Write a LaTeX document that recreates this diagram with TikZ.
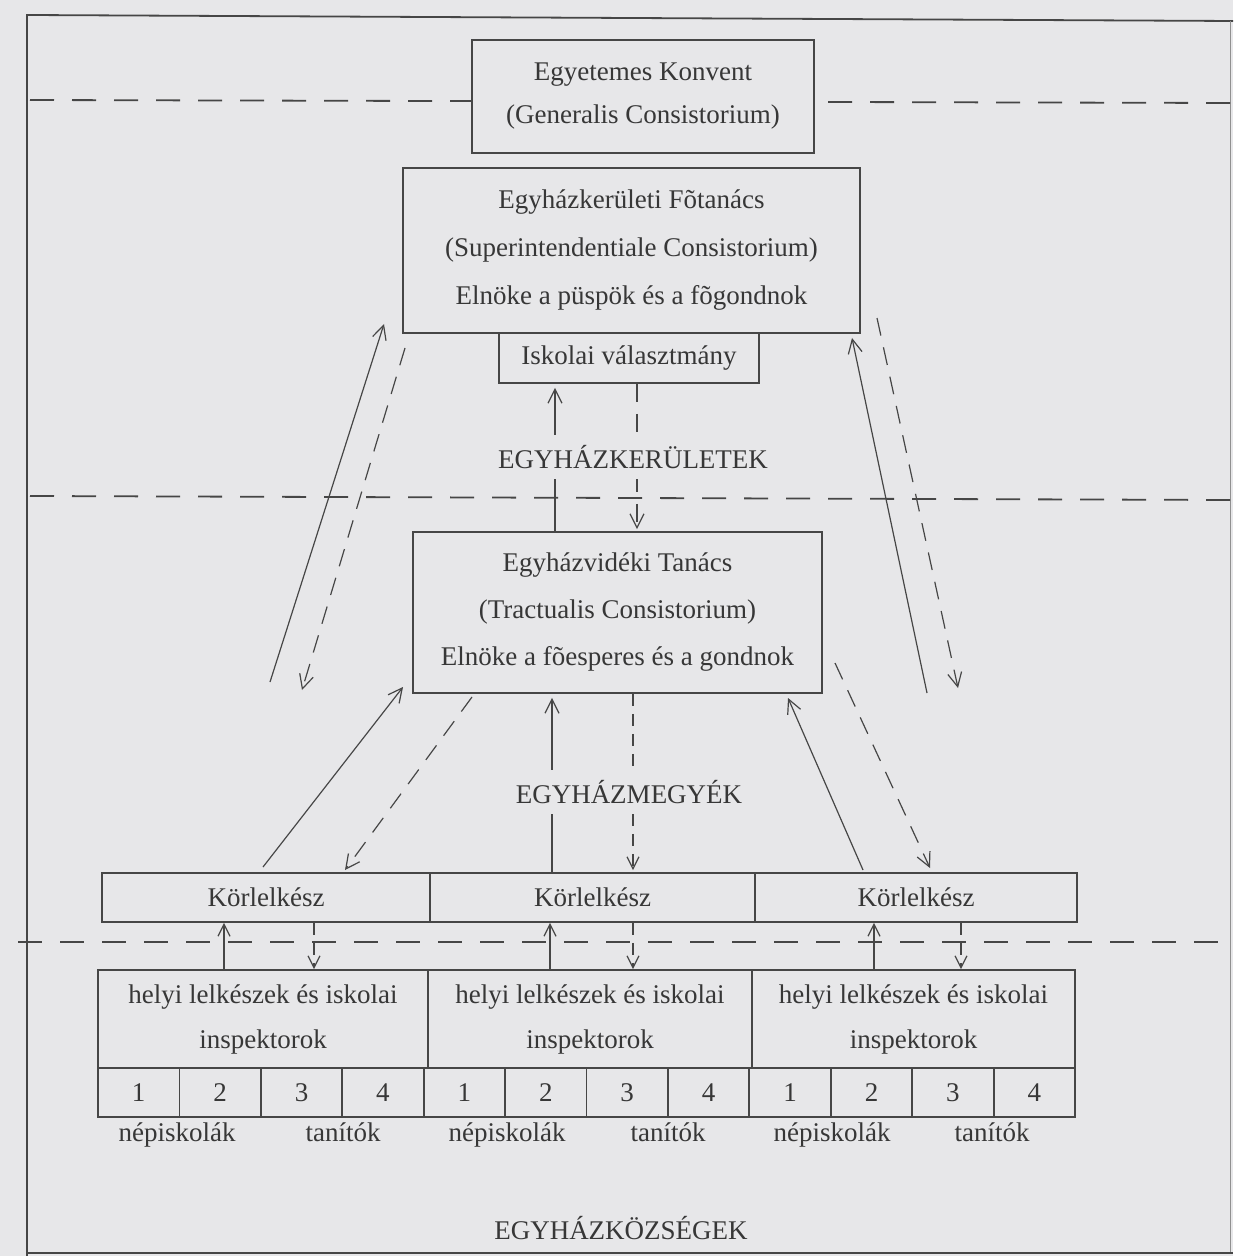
\documentclass[tikz,border=0pt]{standalone}
\usepackage{fontspec}
\setmainfont{Liberation Serif}
\usetikzlibrary{arrows.meta}
\definecolor{bg}{RGB}{231,231,233}
\definecolor{ink}{RGB}{70,70,70}
\definecolor{txt}{RGB}{55,55,55}
\begin{document}
\begin{tikzpicture}[x=0.5pt,y=-0.5pt,
  every node/.style={text=txt},
  box/.style={draw=ink,line width=0.9pt,fill=bg,inner sep=0pt,align=center,
     font=\fontsize{13.5}{22.5}\selectfont},
  lbl/.style={font=\fontsize{13.5}{16}\selectfont,inner sep=0pt},
  slbl/.style={font=\fontsize{13.5}{16}\selectfont,fill=bg,inner xsep=1pt,inner ysep=5pt},
  sep/.style={draw=ink,line width=0.9pt,dash pattern=on 12pt off 9pt},
  up/.style={draw=ink,line width=0.6pt,-{Straight Barb[length=7pt,width=7pt]}},
  down/.style={draw=ink,line width=0.6pt,dash pattern=on 9pt off 6pt,-{Straight Barb[length=7pt,width=7pt]}},
  sdown/.style={draw=ink,line width=0.6pt,dash pattern=on 6pt off 4pt,-{Straight Barb[length=6pt,width=6pt]}},
  sup/.style={draw=ink,line width=0.6pt,-{Straight Barb[length=6pt,width=6pt]}}]
\fill[bg] (0,0) rectangle (1233,1256);
\useasboundingbox (0,0) rectangle (1233,1256);
% frame
\draw[ink,line width=0.9pt] (27,1256) -- (27,15) -- (1233,21);
\draw[ink!60,line width=0.5pt] (1230,21) -- (1230,1253);
\draw[ink,line width=1.1pt] (27,1253) -- (1233,1253);
% separators
\draw[sep] (30,100) -- (1233,103);
\draw[sep] (30,496) -- (1233,500);
\draw[sep] (18,942) -- (1233,942);

% boxes
\node[box,minimum width=171pt,minimum height=56.5pt,font=\fontsize{13.5}{21.5}\selectfont] (konv) at (643,96.5)
  {Egyetemes Konvent\\(Generalis Consistorium)};
\node[box,minimum width=228.5pt,minimum height=82.5pt,font=\fontsize{13.5}{24}\selectfont] (fot) at (631.5,250.5)
  {Egyházkerületi Fõtanács\\(Superintendentiale Consistorium)\\Elnöke a püspök és a fõgondnok};
\node[box,minimum width=130pt,minimum height=25pt] (isk) at (629,358) {Iskolai választmány};
\node[box,minimum width=204.5pt,minimum height=80.5pt,font=\fontsize{13.5}{23.5}\selectfont] (trac) at (617.5,612.5)
  {Egyházvidéki Tanács\\(Tractualis Consistorium)\\Elnöke a fõesperes és a gondnok};

\node[box,minimum width=164pt,minimum height=24.5pt] (k1) at (266,897.5) {Körlelkész};
\node[box,minimum width=162.5pt,minimum height=24.5pt] (k2) at (592.5,897.5) {Körlelkész};
\node[box,minimum width=161pt,minimum height=24.5pt] (k3) at (916,897.5) {Körlelkész};

\node[box,minimum width=165pt,minimum height=49pt] (h1) at (263,1019) {helyi lelkészek és iskolai\\inspektorok};
\node[box,minimum width=162pt,minimum height=49pt] (h2) at (590,1019) {helyi lelkészek és iskolai\\inspektorok};
\node[box,minimum width=161.5pt,minimum height=49pt] (h3) at (913.5,1019) {helyi lelkészek és iskolai\\inspektorok};

\foreach \i/\n in {1/1,2/2,3/3,4/4,5/1,6/2,7/3,8/4,9/1,10/2,11/3,12/4}{
  \node[box,minimum width=40.71pt,minimum height=24.5pt] (n\i) at ({98+81.42*(\i-0.5)},1092.5) {\n};
}

% coordinates for free ends
\coordinate (a1s) at (270,682);  \coordinate (a1e) at (384,324);
\coordinate (a2s) at (405,348);  \coordinate (a2e) at (302,690);
\coordinate (a3s) at (927,693);  \coordinate (a3e) at (852,338);
\coordinate (a4s) at (877,318);  \coordinate (a4e) at (958,688);
\coordinate (b1s) at (263,867);  \coordinate (b1e) at (403,687);
\coordinate (b2s) at (472,697);  \coordinate (b2e) at (345,870);
\coordinate (b3s) at (863,870);  \coordinate (b3e) at (788,698);
\coordinate (b4s) at (835,663);  \coordinate (b4e) at (930,868);

% outer arrows
\draw[up] (a1s) -- (a1e);
\draw[down] (a2s) -- (a2e);
\draw[up] (a3s) -- (a3e);
\draw[down] (a4s) -- (a4e);
% iskolai <-> tractualis
\draw[up] (trac.north -| 555,0) -- ([yshift=-2pt]isk.south -| 555,0);
\draw[down] (isk.south -| 637,0) -- ([yshift=1pt]trac.north -| 637,0);
% tractualis <-> korlelkesz
\draw[up] (b1s) -- (b1e);
\draw[down] (b2s) -- (b2e);
\draw[up] (k2.north -| 552,0) -- ([yshift=-2pt]trac.south -| 552,0);
\draw[sdown] (trac.south -| 633,0) -- ([yshift=1pt]k2.north -| 633,0);
\draw[up] (b3s) -- (b3e);
\draw[down] (b4s) -- (b4e);
% korlelkesz <-> helyi
\draw[sup] (h1.north -| 224,0) -- (k1.south -| 224,0);
\draw[sdown] (k1.south -| 314,0) -- (h1.north -| 314,0);
\draw[sup] (h2.north -| 550,0) -- (k2.south -| 550,0);
\draw[sdown] (k2.south -| 633,0) -- (h2.north -| 633,0);
\draw[sup] (h3.north -| 874,0) -- (k3.south -| 874,0);
\draw[sdown] (k3.south -| 961,0) -- (h3.north -| 961,0);

% labels (on top of the arrows)
\node[slbl] (l1) at (633,457) {EGYHÁZKERÜLETEK};
\node[slbl] (l2) at (629,792) {EGYHÁZMEGYÉK};
\node[lbl] (l3) at (621,1228) {EGYHÁZKÖZSÉGEK};
\foreach \x/\t/\m in {177/népiskolák/a,343/tanítók/b,507/népiskolák/c,668/tanítók/d,832/népiskolák/e,992/tanítók/f}{
  \node[lbl,anchor=base] (lab\m) at (\x,1141) {\t};
}
\end{tikzpicture}
\end{document}
